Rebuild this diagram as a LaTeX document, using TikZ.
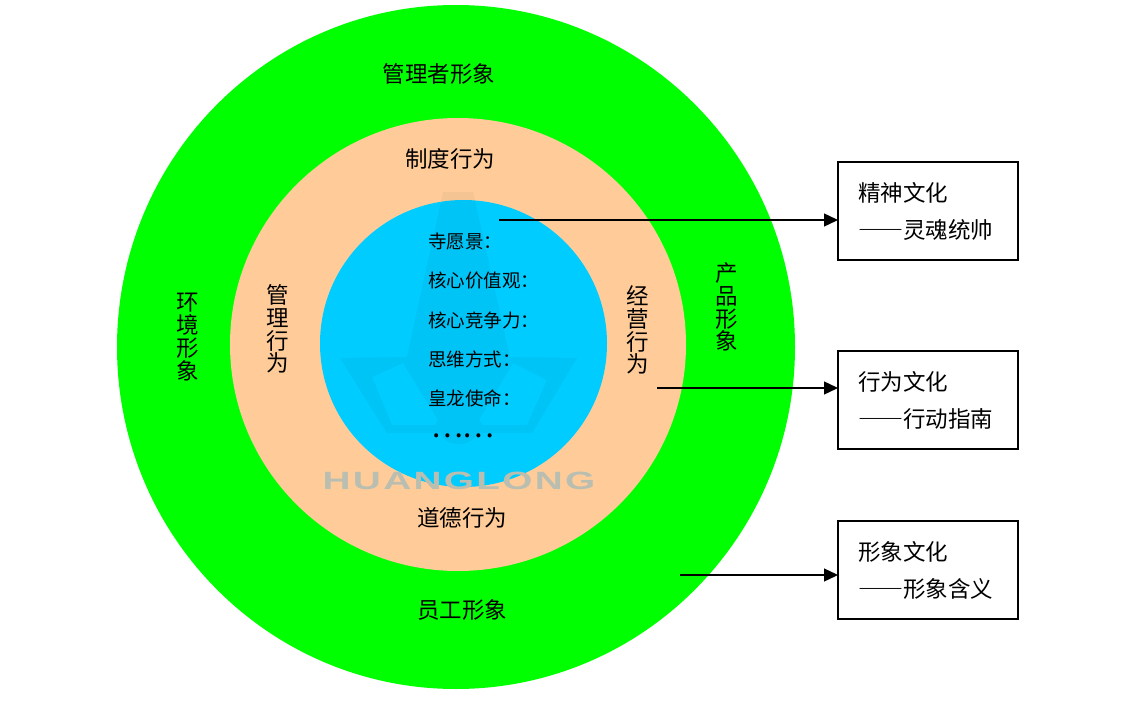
\documentclass[tikz,border=0pt]{standalone}
\usepackage{fontspec}
\usetikzlibrary{arrows.meta, shapes.geometric}
\newfontfamily\cjk{Noto Sans CJK SC}
\newfontfamily\wmfont[LetterSpace=6]{Liberation Sans Bold}
\newcommand{\wdash}{{\addfontfeature{RawFeature=+fwid}——}}
\definecolor{outergreen}{HTML}{00FF00}
\definecolor{midpeach}{HTML}{FFCC99}
\definecolor{coreblue}{HTML}{00CCFF}
\definecolor{wmgrey}{HTML}{B9BEB0}

\begin{document}
\begin{tikzpicture}[
  x=1pt, y=-1pt,
  ring/.style={ellipse, inner sep=0pt},
  lab/.style={font=\cjk\fontsize{22.5}{22.8}\selectfont, align=center, inner sep=0pt},
  item/.style={font=\cjk\fontsize{18.5}{19}\selectfont, anchor=west, inner sep=0pt},
  culture/.style={draw, line width=1.5pt, outer sep=0pt, inner xsep=20pt, inner ysep=0pt, text width=140pt,
    minimum height=98pt, align=left, font=\cjk\fontsize{22.5}{37}\selectfont},
  arrow/.style={-{Triangle[length=14pt, width=13pt]}, line width=1.3pt}
]
\useasboundingbox (0,0) rectangle (1141,709);

\node (outer) [ring, fill=outergreen, minimum width=678pt, minimum height=684pt] at (456,347) {};
\node (middle) [ring, fill=midpeach, minimum width=456pt, minimum height=453pt] at (458,344.5) {};
\node (core) [ring, fill=coreblue, minimum width=287pt, minimum height=287pt] at (463.5,343.5) {};

% faint logo behind the text
\fill [black, opacity=.04, even odd rule]
  (443,192) -- (473,192) -- (510,357) -- (577,358) -- (532,433) -- (478,433)
  .. controls (470,448) and (446,448) .. (440,433) -- (387,433) -- (340,358) -- (407,357) -- cycle
  (372,377) -- (403,363) -- (438,420) -- (435,425) -- (392,425) -- cycle
  (513,363) -- (547,380) -- (527,425) -- (483,425) -- (479,420) -- cycle;
\node (mark) [text=wmgrey, font=\wmfont\fontsize{25}{25}\selectfont, xscale=1.55, inner sep=0pt] at (459,481) {HUANGLONG};

\node (manager) [lab] at (439,74) {管理者形象};
\node (staff) [lab] at (462,610) {员工形象};
\node (env) [lab] at (188,337) {环\\境\\形\\象};
\node (product) [lab] at (727,307) {产\\品\\形\\象};

\node (system) [lab] at (450,159) {制度行为};
\node (moral) [lab] at (462,518) {道德行为};
\node (manage) [lab] at (278,329) {管\\理\\行\\为};
\node (business) [lab] at (638,330) {经\\营\\行\\为};

\node (vision) [item] at (428,242) {寺愿景：};
\node (value) [item] at (428,281) {核心价值观：};
\node (compete) [item] at (428,320) {核心竞争力：};
\node (thinking) [item] at (428,359) {思维方式：};
\node (mission) [item] at (428,398) {皇龙使命：};
\node (dots) [item, font=\cjk\fontsize{30}{30}\selectfont] at (431,436) {……};

\node (spirit) [culture, anchor=north west] at (838,162) {精神文化\\\wdash 灵魂统帅};
\node (behave) [culture, anchor=north west] at (838,351) {行为文化\\\wdash 行动指南};
\node (image) [culture, anchor=north west] at (838,521) {形象文化\\\wdash 形象含义};

\coordinate (spiritstart) at (499,220);
\coordinate (behavestart) at (657,388);
\coordinate (imagestart) at (680,575);

\draw [arrow] (spiritstart) -- (spiritstart -| spirit.west);
\draw [arrow] (behavestart) -- (behavestart -| behave.west);
\draw [arrow] (imagestart) -- (imagestart -| image.west);
\end{tikzpicture}
\end{document}
